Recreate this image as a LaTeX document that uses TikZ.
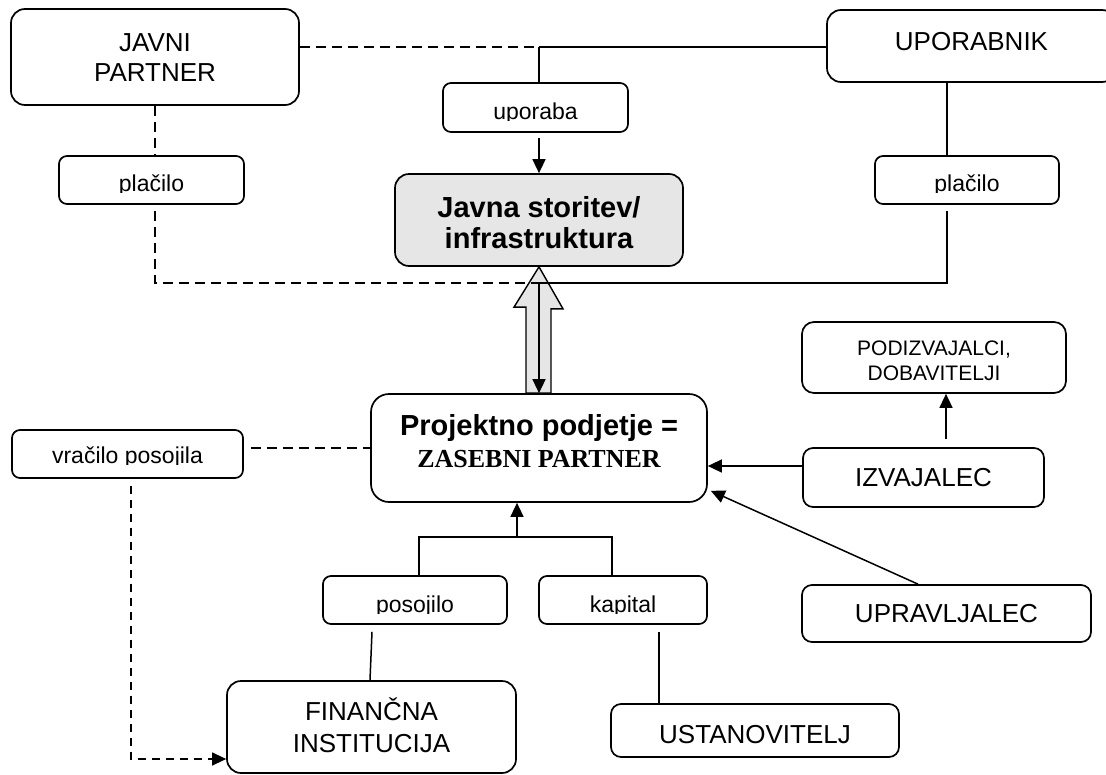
\documentclass[tikz,border=0pt]{standalone}
\usepackage{fontspec}
\setmainfont{Liberation Sans}
\newfontfamily\timesf{Liberation Serif}
\usepackage{trimclip}
\usetikzlibrary{arrows.meta,calc}
\definecolor{javgray}{HTML}{E6E6E6}
\newcommand\cutd[1]{\clipbox*{{0pt} {-1.5pt} {\width} {\height}}{#1}}
\newcommand\twol[3]{\vbox{\lineskiplimit=-40pt\baselineskip=#1\halign{\hfil##\hfil\cr#2\cr#3\cr}}}
\newcommand\fBig{\fontsize{26}{30}\selectfont}
\newcommand\fSmall{\fontsize{23}{27}\selectfont}
\newcommand\fBold{\fontsize{29}{33}\selectfont\bfseries}
\newcommand\fPod{\fontsize{21}{25}\selectfont}
\begin{document}
\begin{tikzpicture}[x=1pt,y=-1pt,
  box/.style={draw, line width=1.7pt, fill=white, inner sep=0pt, rounded corners=#1, text depth=0pt},
  box/.default=8pt,
  con/.style={line width=1.5pt},
  thickc/.style={line width=2.5pt},
  dsh/.style={line width=1.9pt, dash pattern=on 10pt off 6pt},
  dshthin/.style={line width=1.3pt, dash pattern=on 8pt off 6pt},
  arr/.style={-{Triangle[length=14pt,width=13pt]}}]
\useasboundingbox (0,0) rectangle (1106,774);

% boxes
\node[box=14pt, font=\fBig, minimum width=288pt, minimum height=96pt, text height=48pt] (jp) at (155,57) {\twol{30pt}{JAVNI}{PARTNER}};
\node[box=14pt, font=\fBig, minimum width=289pt, minimum height=72pt, text height=8pt] (upo) at (971.5,46) {UPORABNIK};
\node[box, font=\fSmall, minimum width=185pt, minimum height=49pt, text height=23pt] (upb) at (535.5,107.5) {\cutd{uporaba}};
\node[box, font=\fSmall, minimum width=185pt, minimum height=48pt, text height=22pt] (placL) at (151.5,180) {\cutd{plačilo}};
\node[box, font=\fSmall, minimum width=184pt, minimum height=48pt, text height=22pt] (placR) at (967,180) {\cutd{plačilo}};
\node[box=14pt, fill=javgray, font=\fBold, minimum width=288pt, minimum height=92pt, text height=56pt] (jav) at (539,220) {\twol{31pt}{Javna storitev/}{infrastruktura}};
\node[box=18pt, minimum width=336pt, minimum height=108pt, text height=38pt] (proj) at (539,448) {\twol{32pt}{\fBold Projektno podjetje =}{\timesf\bfseries\fontsize{26}{30}\selectfont ZASEBNI PARTNER}};
\node[box=12pt, font=\fPod, minimum width=264pt, minimum height=71pt, text height=45pt] (podiz) at (934,357.5) {\twol{25pt}{PODIZVAJALCI,}{DOBAVITELJI}};
\node[box, font=\fSmall, minimum width=231pt, minimum height=48pt, text height=18pt] (vrac) at (127.5,454) {\cutd{vračilo posojila}};
\node[box=10pt, font=\fBig, minimum width=241pt, minimum height=59pt, text height=17pt] (izv) at (923.5,477.5) {IZVAJALEC};
\node[box, font=\fSmall, minimum width=184pt, minimum height=48pt, text height=24pt] (pos) at (415,600) {\cutd{posojilo}};
\node[box, font=\fSmall, minimum width=168pt, minimum height=48pt, text height=24pt] (kap) at (623,600) {\cutd{kapital}};
\node[box=10pt, font=\fBig, minimum width=289pt, minimum height=57pt, text height=17pt] (uprav) at (946.5,613.5) {UPRAVLJALEC};
\node[box=14pt, font=\fBig, minimum width=289pt, minimum height=92pt, text height=50pt] (fin) at (371.5,727) {\twol{32pt}{FINANČNA}{INSTITUCIJA}};
\node[box=10pt, font=\fBig, minimum width=288pt, minimum height=53pt, text height=25pt] (ust) at (755,730.5) {USTANOVITELJ};

% junction points
\coordinate (jt) at (539,47);
\coordinate (jb) at (539,283);
\coordinate (jj) at (517,538);
\coordinate (uc) at (947,82);
\coordinate (vc) at (131,759);

% block arrow between project company and infrastructure
\draw[line width=1.4pt, fill=javgray, line join=miter] (jav.south) -- ++(24,42) -- ++(-12,0)
  -- ($(proj.north)+(12,0)$) -- ($(proj.north)+(-13,0)$) -- ++(0,-86) -- ++(-12,0) -- cycle;

% top connectors
\draw[dsh] (jt -| jp.east) -- (jt);
\draw[con] (jt) -- (jt -| upo.west);
\draw[con] (jt) -- (jt |- upb.north);
\draw[con,arr] ($(jt |- upb.south)+(0,5)$) -- (jt |- jav.north);

% payments
\draw[dsh] (jp.south) -- (jp.south |- placL.north);
\draw[dsh] ($(jp.south |- placL.south)+(0,6)$) -- (jp.south |- jb) -- (jb);
\draw[con] (uc |- upo.south) -- (uc |- placR.north);
\draw[con] ($(uc |- placR.south)+(0,6)$) -- (uc |- jb) -- (jb);
\draw[con,arr] (jb) -- (jb |- proj.north);

% loan repayment
\draw[dsh] ($(vrac.east |- proj.west)+(7,0)$) -- (proj.west);
\draw[dshthin,arr] ($(vc |- vrac.south)+(0,7)$) -- (vc) -- (vc -| fin.west);

% financing
\draw[thickc] ($(pos.north)+(4,0)$) |- ($(kap.north)+(-11,-38)$) -- ($(kap.north)+(-11,0)$);
\draw[con,arr] (jj) -- (jj |- proj.south);
\draw[con] ($(pos.south)+(-43,7)$) -- ($(fin.north)+(-1.5,0)$);
\coordinate (kc) at ($(kap.south)+(36,7)$);
\draw[con] (kc) -- (kc |- ust.north);

% contractors
\coordinate (ic) at ($(izv.west)+(0,-11.5)$);
\draw[con,arr] (ic) -- (ic -| proj.east);
\coordinate (ip) at ($(izv.north)+(22.5,-8)$);
\draw[con,arr] (ip) -- (ip |- podiz.south);
\draw[con,arr] ($(uprav.north)+(-28.5,0)$) -- ($(proj.south east)+(3,-12)$);
\end{tikzpicture}
\end{document}
